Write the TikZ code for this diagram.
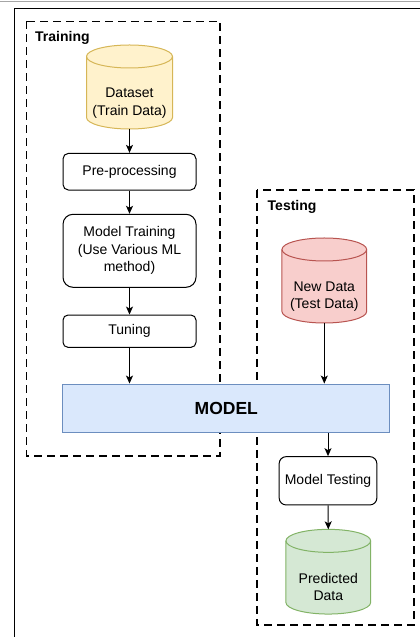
\documentclass[tikz,border=0pt]{standalone}
\usepackage{fontspec}
\setmainfont{Liberation Sans}
\usetikzlibrary{arrows.meta,calc}
\definecolor{yfill}{HTML}{FFF2CC}\definecolor{ystroke}{HTML}{D6B656}
\definecolor{rfill}{HTML}{F8CECC}\definecolor{rstroke}{HTML}{B85450}
\definecolor{gfill}{HTML}{D5E8D4}\definecolor{gstroke}{HTML}{82B366}
\definecolor{bfill}{HTML}{DAE8FC}\definecolor{bstroke}{HTML}{6C8EBF}
\newcommand\dbcyl[6]{%
  \node[minimum width=#3pt, minimum height=#4pt, inner sep=0pt, outer sep=0pt] (#1) at (#2) {};
  \path[#5, line width=1pt] ([yshift=-11.5pt]#1.north west) -- ([yshift=11.5pt]#1.south west)
    arc[start angle=180, end angle=360, x radius=#3/2, y radius=11.5]
    -- ([yshift=-11.5pt]#1.north east)
    arc[start angle=0, end angle=180, x radius=#3/2, y radius=11.5] -- cycle;
  \draw[#6, line width=1pt] ([yshift=-11.5pt]#1.north west)
    arc[start angle=180, end angle=360, x radius=#3/2, y radius=11.5];
}
\begin{document}
\begin{tikzpicture}[x=1pt,y=1pt,
  txt/.style={align=center, inner sep=0pt, font=\fontsize{14}{17.5}\selectfont},
  grp/.style={draw=black, line width=1.2pt, dash pattern=on 8pt off 5pt},
  grplabel/.style={anchor=west, inner sep=0pt, font=\fontsize{14}{17}\selectfont\bfseries},
  procbox/.style={draw=black, line width=1pt, align=center, inner sep=0pt, font=\fontsize{14}{17.5}\selectfont},
  conn/.style={line width=1pt, -{Stealth[length=8pt,width=7pt,inset=2pt]}}]
\useasboundingbox (0,0) rectangle (420,637);
% outer frame
\draw[gray!70, line width=1pt] (0,635) -- (420,635);
\draw[black, line width=1.3pt] (420,628.3) -- (14.5,628.3) -- (14.5,0);
% groups
\draw[grp] (26.5,615.5) rectangle (220,181);
\draw[grp] (257,447) rectangle (414,12);
\node[grplabel] (trl) at (35,599) {Training};
\node[grplabel] (tel) at (267.5,430) {Testing};
% training
\dbcyl{ds}{129.5,550}{86}{84}{fill=yfill, draw=ystroke}{ystroke}
\node[txt] (dst) at (129.5,534) {Dataset\\(Train Data)};
\node[procbox, rounded corners=5.5pt, minimum width=133pt, minimum height=36.7pt] (pp) at (129.5,465.3) {Pre-processing};
\node[procbox, rounded corners=10pt, minimum width=133pt, minimum height=73pt] (mtr) at (129.5,386.2) {Model Training\\(Use Various ML\\method)};
\node[procbox, rounded corners=5pt, minimum width=133pt, minimum height=32.3pt] (tu) at (129.5,305.8) {Tuning};
% model
\node[draw=bstroke, fill=bfill, line width=1pt, minimum width=327.3pt, minimum height=48.3pt, inner sep=0pt, font=\fontsize{17.5}{20}\selectfont\bfseries] (model) at (226.3,228.8) {MODEL};
% testing
\dbcyl{nd}{324.3,356.5}{84.7}{85}{fill=rfill, draw=rstroke}{rstroke}
\node[txt] (ndt) at (324.3,340.5) {New Data\\(Test Data)};
\node[procbox, rounded corners=7pt, minimum width=97.7pt, minimum height=48.3pt] (mte) at (328,156.2) {Model Testing};
\dbcyl{pd}{328.3,65.3}{84.7}{84.7}{fill=gfill, draw=gstroke}{gstroke}
\node[txt] (pdt) at (328.3,50) {Predicted\\Data};
% connectors
\draw[conn] (ds.south) -- (pp.north);
\draw[conn] (pp.south) -- (mtr.north);
\draw[conn] (mtr.south) -- (tu.north);
\draw[conn] (tu.south) -- (tu.south |- model.north);
\draw[conn] (nd.south) -- (nd.south |- model.north);
\draw[conn] (model.south -| mte.north) -- (mte.north);
\draw[conn] (mte.south) -- (pd.north);
\end{tikzpicture}
\end{document}
